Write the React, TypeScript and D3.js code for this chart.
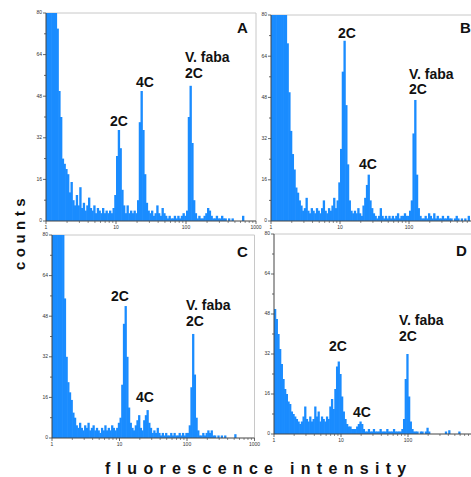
import React from "react";
import * as d3 from "d3";

// Histogram counts per log-channel (40 channels per decade, 1 .. 1000)
const countsA = [300,300,300,300,300,85,74,50,40,24,22,20,18,11,15,8,6,10,6,13,5,7,4,6,9,5,4,6,3,5,4,3,5,3,4,3,4,3,5,10,25,35,28,12,6,3,6,3,4,3,4,3,8,38,50,35,18,7,4,3,4,2,3,6,3,2,5,3,2,1,2,1,1,2,1,2,1,2,3,2,4,40,52,30,8,3,1,2,1,1,2,3,5,4,2,1,1,2,1,1,2,1,1,0,1,0,1,0,0,0,0,0,2,0,0,0,0,0,0,0];
const countsB = [300,300,300,300,300,300,300,300,100,69,50,35,26,20,13,11,8,6,4,5,9,4,3,5,4,3,5,4,3,5,8,4,3,5,4,6,9,5,8,15,28,58,70,45,22,8,4,3,4,3,5,3,2,6,9,14,18,8,5,3,2,1,2,5,2,1,2,1,2,1,2,1,2,3,1,2,2,3,2,2,4,8,34,47,18,5,2,1,1,2,1,3,2,1,3,1,2,1,1,2,1,1,2,1,1,0,1,2,1,0,1,0,1,0,2,0,0,0,0,0];
const countsC = [300,300,300,300,300,300,300,55,32,22,18,15,10,8,5,4,6,4,3,5,4,6,3,4,5,3,4,3,2,4,3,5,3,4,3,5,4,3,4,6,8,21,45,52,32,12,6,4,3,5,7,9,4,3,7,9,11,6,4,2,3,2,4,2,1,2,1,2,1,1,2,1,2,1,1,2,1,2,1,2,2,5,20,41,25,8,3,1,1,2,1,2,3,2,3,1,1,0,1,0,1,0,1,0,0,0,0,0,1.5,0,0,0,0,0,0,0,0,0,0,0];
const countsD = [50,46,40,34,28,22,18,16,13,12,9,8,7,6,5,4,5,7,11,6,5,7,5,6,11,7,9,5,7,6,5,7,6,11,14,10,18,27,29,24,15,9,6,4,3,3,2,2,2,3,4,5,4,2,1,1,2,1,1,2,1,1,1,2,1,1,1,2,1,1,1,2,1,1,1,1,2,6,22,32,15,5,2,1,1,1,0,1,1,0,1,2.5,1,0,0,0,0,0,0,0,0,0,1,0,1.5,0,0,0,0,0,1,0,0,0,0,0,0,0,0,0];

const xTickValues = [1, 10, 100, 1000];
const yTickValues = [0, 16, 32, 48, 64, 80];
const yMinorValues = [8, 24, 40, 56, 72];
const BINS_PER_DECADE = 40;

const FONT = "'Liberation Sans', Arial, Helvetica, sans-serif";
const BLUE = "#1a8cff";
const W = 471;

type Label = { text: string; x: number; y: number };
type Panel = {
  id: string;
  data: number[];
  x0: number; x1: number; top: number; bottom: number;
  letter: { x: number; y: number };
  labels: Label[];
  rightBorder: boolean;
};

const PANELS: Panel[] = [
  { id: "A", data: countsA, x0: 46, x1: 256, top: 13, bottom: 221, letter: { x: 237, y: 33 }, rightBorder: true,
    labels: [ { text: "2C", x: 110, y: 126 }, { text: "4C", x: 136, y: 87 }, { text: "V. faba", x: 185, y: 62 }, { text: "2C", x: 185, y: 78 } ] },
  { id: "B", data: countsB, x0: 271, x1: 478, top: 15, bottom: 221, letter: { x: 460, y: 33 }, rightBorder: false,
    labels: [ { text: "2C", x: 338, y: 38 }, { text: "4C", x: 359, y: 169 }, { text: "V. faba", x: 409, y: 79 }, { text: "2C", x: 409, y: 94 } ] },
  { id: "C", data: countsC, x0: 52, x1: 254.5, top: 235, bottom: 438, letter: { x: 237, y: 257 }, rightBorder: true,
    labels: [ { text: "2C", x: 111, y: 301 }, { text: "4C", x: 136, y: 402 }, { text: "V. faba", x: 186, y: 310 }, { text: "2C", x: 186, y: 326 } ] },
  { id: "D", data: countsD, x0: 274, x1: 475, top: 234, bottom: 434, letter: { x: 456, y: 256 }, rightBorder: false,
    labels: [ { text: "2C", x: 329, y: 351 }, { text: "4C", x: 353, y: 417 }, { text: "V. faba", x: 399, y: 325 }, { text: "2C", x: 399, y: 341 } ] },
];

function PanelView({ p }: { p: Panel }) {
  const x = d3.scaleLog().domain([1, 1000]).range([p.x0, p.x1]);
  const y = d3.scaleLinear().domain([0, 80]).range([p.bottom, p.top]).clamp(true);
  const minorX: number[] = [];
  for (const dec of [1, 10, 100]) for (let k = 2; k <= 9; k++) minorX.push(dec * k);
  const right = Math.min(p.x1, W);
  return (
    <g>
      {/* frame */}
      <line x1={p.x0} x2={right} y1={p.top} y2={p.top} stroke="#c8c8c8" strokeWidth={1} />
      {p.rightBorder && <line x1={p.x1} x2={p.x1} y1={p.top} y2={p.bottom} stroke="#c8c8c8" strokeWidth={1} />}
      {/* bars */}
      {p.data.map((v, i) => {
        if (v <= 0) return null;
        const a = x(Math.pow(10, i / BINS_PER_DECADE));
        const b = x(Math.pow(10, (i + 1) / BINS_PER_DECADE));
        const yt = y(v);
        return <rect key={i} x={a} y={yt} width={b - a + 0.6} height={p.bottom - yt} fill={BLUE} />;
      })}
      {/* y axis */}
      <line x1={p.x0} x2={p.x0} y1={p.top} y2={p.bottom} stroke="#444" strokeWidth={1} />
      {yTickValues.map((t) => (
        <g key={"y" + t}>
          <line x1={p.x0 - 3} x2={p.x0} y1={y(t)} y2={y(t)} stroke="#444" strokeWidth={0.8} />
          <text x={p.x0 - 4} y={y(t)} fontSize={5} fontFamily={FONT} textAnchor="end" dominantBaseline="middle" fill="#333">{t}</text>
        </g>
      ))}
      {yMinorValues.map((t) => (
        <line key={"ym" + t} x1={p.x0 - 2} x2={p.x0} y1={y(t)} y2={y(t)} stroke="#444" strokeWidth={0.8} />
      ))}
      {/* x axis */}
      <line x1={p.x0} x2={right} y1={p.bottom} y2={p.bottom} stroke="#444" strokeWidth={1} />
      {xTickValues.filter((t) => x(t) < W - 6).map((t) => (
        <g key={"x" + t}>
          <line x1={x(t)} x2={x(t)} y1={p.bottom} y2={p.bottom + 3} stroke="#444" strokeWidth={0.8} />
          <text x={x(t)} y={p.bottom + 7} fontSize={5} fontFamily={FONT} textAnchor="middle" dominantBaseline="middle" fill="#333">{t}</text>
        </g>
      ))}
      {minorX.map((t) => (
        <line key={"xm" + t} x1={x(t)} x2={x(t)} y1={p.bottom} y2={p.bottom + 2} stroke="#444" strokeWidth={0.6} />
      ))}
      {/* annotations */}
      {p.labels.map((l, i) => (
        <text key={i} x={l.x} y={l.y} fontSize={14} fontWeight="bold" fontFamily={FONT} fill="#111">{l.text}</text>
      ))}
      <text x={p.letter.x} y={p.letter.y} fontSize={15} fontWeight="bold" fontFamily={FONT} fill="#111">{p.id}</text>
    </g>
  );
}

export default function App() {
  return (
    <svg width={471} height={477} style={{ position: "absolute", left: 0, top: 0, background: "#fff" }}>
      <rect x={0} y={0} width={471} height={477} fill="#fff" />
      {PANELS.map((p) => <PanelView key={p.id} p={p} />)}
      <text transform="translate(25,232) rotate(-90)" textAnchor="middle" fontSize={15} fontWeight="bold" fontFamily={FONT} letterSpacing={4.5} fill="#111">counts</text>
      <text x={105} y={474} fontSize={16} fontWeight="bold" fontFamily={FONT} letterSpacing={6.3} fill="#111">fluorescence intensity</text>
    </svg>
  );
}
